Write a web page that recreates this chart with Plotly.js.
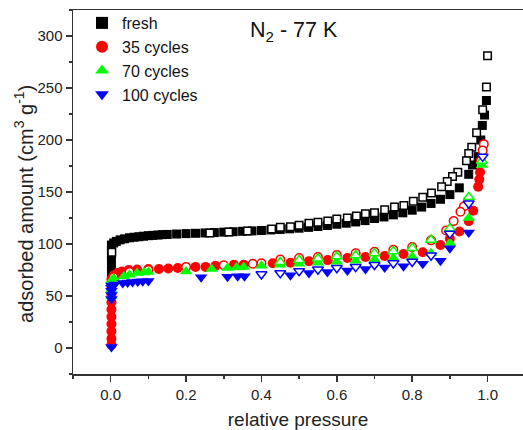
<!DOCTYPE html>
<html>
<head>
<meta charset="utf-8">
<script src="https://cdn.plot.ly/plotly-3.0.1.min.js"></script>
<style>html,body{margin:0;padding:0;background:#fff;}#chart{width:523px;height:430px;}</style>
</head>
<body>
<div id="chart"></div>
<script>
// fresh - adsorption (filled squares)
var freshAdsX = [0.002,0.002,0.002,0.002,0.002,0.002,0.008,0.015,0.025,0.037,0.05,0.062,0.075,0.087,0.1,0.112,0.125,0.137,0.15,0.175,0.2,0.225,0.25,0.275,0.3,0.325,0.35,0.375,0.4,0.425,0.45,0.475,0.5,0.525,0.55,0.575,0.6,0.625,0.65,0.675,0.7,0.725,0.75,0.775,0.8,0.825,0.85,0.875,0.9,0.925,0.95,0.96,0.975,0.982,0.986,0.992,0.997];
var freshAdsY = [68,76,84,90,95,99,101,102.5,104,105,106,106.5,107,107.5,108,108.3,108.6,109,109.2,109.6,110,110.3,110.6,111,111.4,111.8,112.2,112.6,113,113.5,114,114.6,115.2,116,116.8,117.8,119,120,121.2,122.5,124.5,126,128,130,132.5,135.5,139,143,147.5,154,167,176,184,200,214,224,238];
// fresh - desorption (open squares)
var freshDesX = [1.0,0.997,0.987,0.971,0.958,0.95,0.944,0.921,0.907,0.893,0.878,0.851,0.828,0.803,0.778,0.753,0.727,0.70,0.676,0.652,0.628,0.60,0.576,0.55,0.526,0.50,0.477,0.45,0.427,0.363,0.313,0.263,0.003];
var freshDesY = [281,251,229,207,193,187,180,169,165,160,155,149,145,141,137,135.5,133,130,129,127,125,124,122,121,120,118,116.5,116,114.4,112.5,111.5,110.6,92];
// 35 cycles
var c35AdsX = [0.002,0.002,0.002,0.002,0.002,0.002,0.002,0.002,0.002,0.002,0.002,0.008,0.018,0.03,0.048,0.07,0.1,0.128,0.153,0.178,0.225,0.252,0.278,0.327,0.353,0.43,0.477,0.526,0.576,0.628,0.676,0.727,0.777,0.828,0.875,0.9,0.925,0.95,0.962,0.975,0.978,0.98];
var c35AdsY = [3,9,16,23,30,37,44,51,57,62,66,70,72,73.5,75,75.5,76,76,76.5,77,78,78,79,80,80,81.5,82,83.5,84.5,86.5,87.5,88.5,90.4,92,99,105,112,122,132,155,162,169];
var c35DesX = [0.99,0.987,0.982,0.937,0.928,0.91,0.89,0.85,0.80,0.75,0.70,0.65,0.60,0.55,0.50,0.45,0.40,0.377,0.30,0.20,0.10,0.05,0.008];
var c35DesY = [196,190,180,136,131,122,113,103.5,97,94.5,92.5,91,89.5,87.5,86.5,85,81.5,81,79.5,78,75,73,68];
// 70 cycles
var c70AdsX = [0.002,0.002,0.002,0.002,0.008,0.035,0.05,0.07,0.088,0.1,0.2,0.268,0.31,0.334,0.353,0.40,0.45,0.5,0.55,0.6,0.65,0.7,0.75,0.8,0.85,0.9,0.95,0.985];
var c70AdsY = [50,56,62,65,67,69,70.5,72,72.5,73,73.5,76,77,77.5,78,79,80,81,82,83,84,85,86.5,88,91,101,125,176];
var c70DesX = [0.985,0.95,0.9,0.85,0.80,0.75,0.70,0.65,0.60,0.55,0.50,0.45];
var c70DesY = [180,145,115,104,96,93,91,89,88,86,84.5,82.5];
// 100 cycles
var c100AdsX = [0.002,0.002,0.002,0.002,0.002,0.002,0.01,0.032,0.045,0.058,0.072,0.085,0.1,0.24,0.31,0.337,0.355,0.477,0.526,0.575,0.628,0.676,0.727,0.777,0.828,0.875,0.9,0.95];
var c100AdsY = [1,47,51,55,58,60,61,62.5,63,63.5,64,64.2,64.5,68,68.5,69,69,70,72,73,74.5,76,77.5,78.5,81,84,96,111];
var c100DesX = [0.987,0.95,0.9,0.85,0.80,0.75,0.70,0.65,0.60,0.55,0.50,0.45,0.40];
var c100DesY = [184,139,110,89,83,81.5,80,78,77,75.5,74,72,71];

var legendNames = ['fresh','35 cycles','70 cycles','100 cycles'];
var xTickVals = [0.0,0.2,0.4,0.6,0.8,1.0];
var xTickText = ['0.0','0.2','0.4','0.6','0.8','1.0'];
var yTickVals = [0,50,100,150,200,250,300];

var FONT = 'Liberation Sans, Arial, sans-serif';

function filled(x, y, name, sym, color, size) {
  return {x:x, y:y, name:name, type:'scatter', mode:'markers', showlegend:true,
    marker:{symbol:sym, color:color, size:size, line:{width:0}}};
}
function open(x, y, sym, color, size) {
  return {x:x, y:y, type:'scatter', mode:'markers', showlegend:false, hoverinfo:'skip',
    marker:{symbol:sym, color:'#ffffff', size:size-1.5, line:{width:1.5, color:color}}};
}

var data = [
  filled(freshAdsX, freshAdsY, legendNames[0], 'square', '#000000', 9),
  open(freshDesX, freshDesY, 'square', '#000000', 9),
  filled(c35AdsX, c35AdsY, legendNames[1], 'circle', '#ff0000', 10),
  open(c35DesX, c35DesY, 'circle', '#ff0000', 10),
  filled(c70AdsX, c70AdsY, legendNames[2], 'triangle-up', '#00ff00', 11),
  open(c70DesX, c70DesY, 'triangle-up', '#00ff00', 11),
  filled(c100AdsX, c100AdsY, legendNames[3], 'triangle-down', '#0000ff', 11),
  open(c100DesX, c100DesY, 'triangle-down', '#0000ff', 11)
];

var layout = {
  width:523, height:430,
  margin:{l:73, r:0, t:10, b:56, pad:0},
  paper_bgcolor:'#ffffff', plot_bgcolor:'#ffffff',
  font:{family:FONT, color:'#222222'},
  showlegend:true,
  legend:{x:0.02, y:1.011, xanchor:'left', yanchor:'top', bgcolor:'rgba(0,0,0,0)',
    font:{family:FONT, size:16, color:'#111111'}, itemsizing:'constant', tracegroupgap:0},
  xaxis:{range:[-0.1,1.094], tickmode:'array', tickvals:xTickVals, ticktext:xTickText,
    ticks:'outside', ticklen:6, tickwidth:1.5, tickcolor:'#333333',
    showline:true, linecolor:'#333333', linewidth:1.5, mirror:true,
    showgrid:false, zeroline:false,
    minor:{tickmode:'linear', tick0:0, dtick:0.1, ticks:'outside', ticklen:3, tickwidth:1.5, tickcolor:'#333333', showgrid:false},
    tickfont:{family:FONT, size:15, color:'#222222'},
    title:{text:'relative pressure', font:{family:FONT, size:19, color:'#222222'}, standoff:14}},
  yaxis:{range:[-25,325], tickmode:'array', tickvals:yTickVals,
    ticks:'outside', ticklen:6, tickwidth:1.5, tickcolor:'#333333',
    showline:true, linecolor:'#333333', linewidth:1.5, mirror:false,
    showgrid:false, zeroline:false,
    minor:{tickmode:'linear', tick0:0, dtick:25, ticks:'outside', ticklen:3, tickwidth:1.5, tickcolor:'#333333', showgrid:false},
    tickfont:{family:FONT, size:15, color:'#222222'},
    title:{text:''}},
  annotations:[
    {text:'N<sub>2</sub> - 77 K', xref:'paper', yref:'paper', x:0.49, y:0.94,
     xanchor:'center', yanchor:'middle', showarrow:false, font:{family:FONT, size:21.5, color:'#111111'}},
    {text:'adsorbed amount (cm<sup>3</sup> g<sup>-1</sup>)', xref:'paper', yref:'paper',
     x:-0.11, y:0.466, xanchor:'center', yanchor:'middle', textangle:-90, showarrow:false,
     font:{family:FONT, size:20, color:'#222222'}}
  ]
};

Plotly.newPlot('chart', data, layout, {displayModeBar:false, staticPlot:true});
</script>
</body>
</html>
